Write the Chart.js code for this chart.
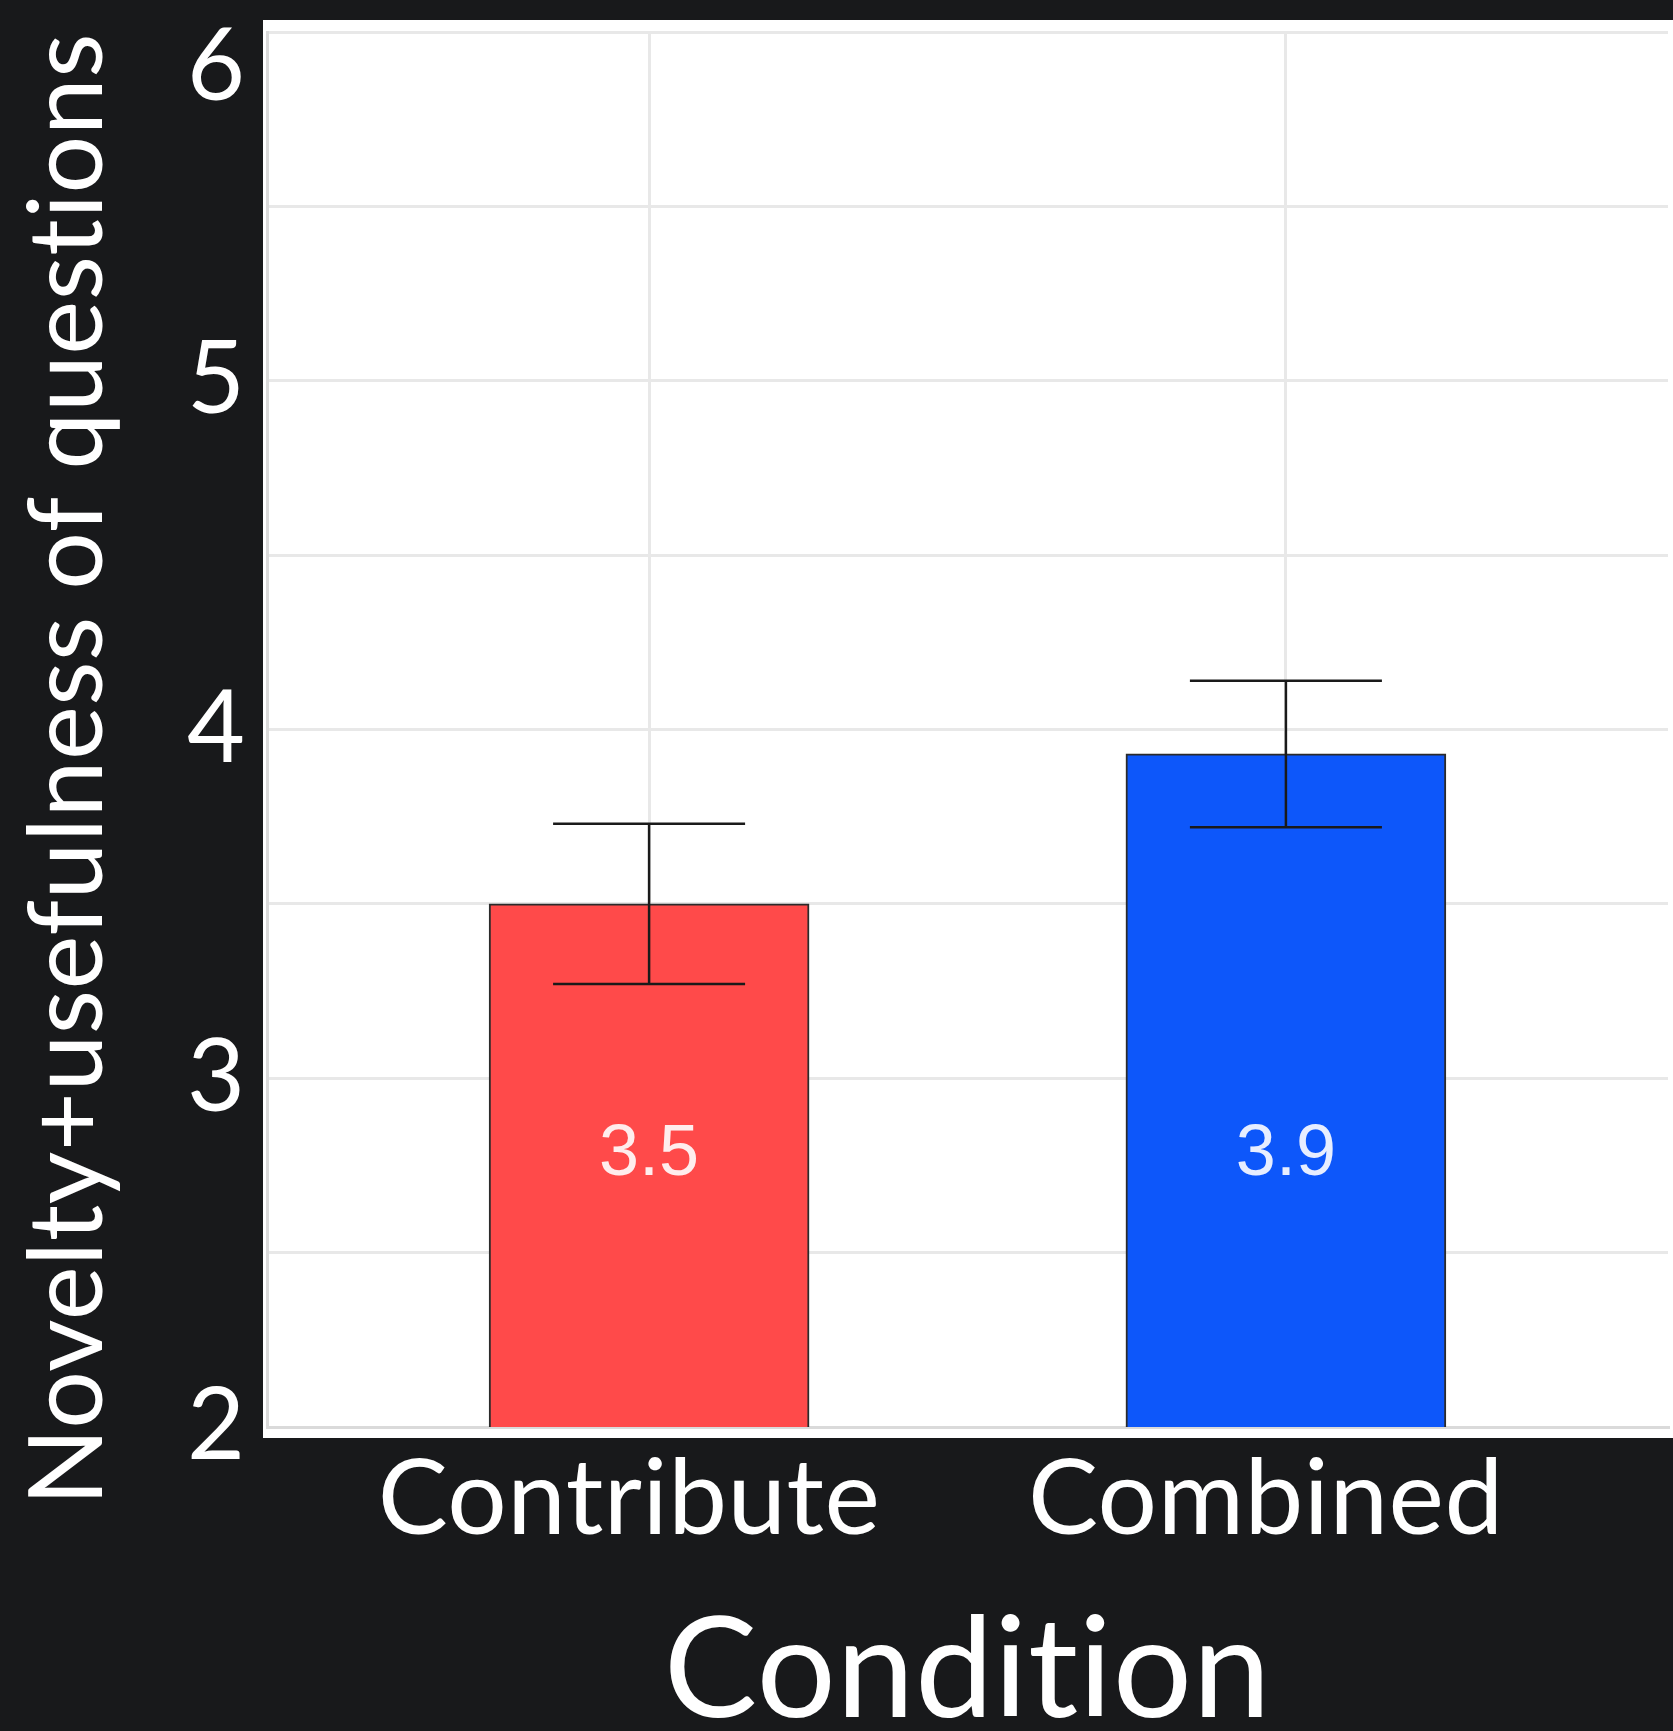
<!DOCTYPE html>
<html>
<head>
<meta charset="utf-8">
<script src="https://cdn.jsdelivr.net/npm/chart.js@4.4.0/dist/chart.umd.min.js"></script>
<style>
  html, body { margin: 0; padding: 0; background: #18191b; }
  #wrap { width: 1673px; height: 1731px; }
</style>
</head>
<body>
<div id="wrap"><canvas id="noveltyChart"></canvas></div>
<script>
const conditions = ["Contribute", "Combined"];
const means = [3.5, 3.93];
const errors = [0.23, 0.21];
const barColors = ["#ff4a4a", "#0d57fa"];
const yTickLabels = [2, 3, 4, 5, 6];
const valueLabelLevel = 2.79;

const axisFont = "Lato, 'Open Sans', sans-serif";

// dark page + white plotting panel
const panelBackground = {
  id: "panelBackground",
  beforeDraw(chart) {
    const { ctx, chartArea } = chart;
    // keeps Lato from joining "ti"
    ctx.letterSpacing = "0.5px";
    ctx.save();
    ctx.fillStyle = "#18191b";
    ctx.fillRect(0, 0, chart.width, chart.height);
    ctx.fillStyle = "#ffffff";
    ctx.fillRect(chartArea.left - 4, chartArea.top - 12,
      chart.width - chartArea.left + 4, chartArea.bottom - chartArea.top + 23);
    ctx.restore();
  },
};

// error bars, value labels and y tick labels
const extras = {
  id: "extras",
  afterDatasetsDraw(chart) {
    const { ctx, chartArea } = chart;
    const x = chart.scales.x;
    const y = chart.scales.y;
    ctx.save();

    ctx.strokeStyle = "#1a1a1a";
    ctx.lineWidth = 2.5;
    means.forEach((m, i) => {
      const px = x.getPixelForValue(i);
      const top = y.getPixelForValue(m + errors[i]);
      const bot = y.getPixelForValue(m - errors[i]);
      const cap = 96;
      ctx.beginPath();
      ctx.moveTo(px, top);
      ctx.lineTo(px, bot);
      ctx.moveTo(px - cap, top);
      ctx.lineTo(px + cap, top);
      ctx.moveTo(px - cap, bot);
      ctx.lineTo(px + cap, bot);
      ctx.stroke();
    });

    ctx.letterSpacing = "0px";
    ctx.font = "72px 'Liberation Sans', Arial, sans-serif";
    ctx.fillStyle = "rgba(255,255,255,0.9)";
    ctx.textAlign = "center";
    ctx.textBaseline = "middle";
    means.forEach((m, i) => {
      ctx.fillText(m.toFixed(1), x.getPixelForValue(i), y.getPixelForValue(valueLabelLevel) + 4);
    });

    ctx.font = "100px " + axisFont;
    ctx.fillStyle = "#ffffff";
    ctx.textAlign = "right";
    yTickLabels.forEach((v) => {
      const py = Math.max(y.getPixelForValue(v), chartArea.top + 36);
      ctx.fillText(String(v), chartArea.left - 22, py);
    });
    ctx.restore();
  },
};

new Chart(document.getElementById("noveltyChart"), {
  type: "bar",
  data: {
    datasets: [
      {
        data: means.map((m, i) => ({ x: i, y: m })),
        backgroundColor: barColors,
        borderColor: "#2b2b2b",
        borderWidth: 2,
        borderSkipped: false,
        barThickness: 320,
      },
    ],
  },
  options: {
    responsive: true,
    maintainAspectRatio: false,
    animation: false,
    devicePixelRatio: 1,
    layout: {
      padding: { top: 32, right: 5, left: 0, bottom: 0 },
    },
    plugins: {
      legend: { display: false },
      tooltip: { enabled: false },
    },
    scales: {
      x: {
        type: "linear",
        min: -0.6,
        max: 1.6,
        offset: false,
        afterBuildTicks: (scale) => {
          scale.ticks = conditions.map((c, i) => ({ value: i }));
        },
        afterFit: (scale) => {
          scale.height = 304;
        },
        grid: { color: "#e8e8e8", lineWidth: 3, drawTicks: false, offset: false },
        border: { display: true, color: "#dadada", width: 3 },
        ticks: {
          padding: 10,
          labelOffset: -20,
          color: "#ffffff",
          font: { family: axisFont, size: 105 },
          maxRotation: 0,
          autoSkip: false,
          callback: (value) => conditions[value] ?? "",
        },
        title: {
          display: true,
          text: "Condition",
          color: "#ffffff",
          padding: { top: 0, bottom: 0 },
          font: { family: axisFont, size: 140, lineHeight: 0.85 },
        },
      },
      y: {
        min: 2,
        max: 6,
        afterFit: (scale) => {
          scale.width = 267;
        },
        grid: { color: "#e8e8e8", lineWidth: 3, drawTicks: false },
        border: { display: true, color: "#dadada", width: 3 },
        ticks: { stepSize: 0.5, display: false },
        title: {
          display: true,
          // trailing spaces nudge the rotated title down a little
          text: "Novelty+usefulness of questions\u00a0\u00a0\u00a0",
          color: "#ffffff",
          padding: { top: 8, bottom: 0 },
          font: { family: axisFont, size: 102, lineHeight: 1.2 },
        },
      },
    },
  },
  plugins: [panelBackground, extras],
});
</script>
</body>
</html>
